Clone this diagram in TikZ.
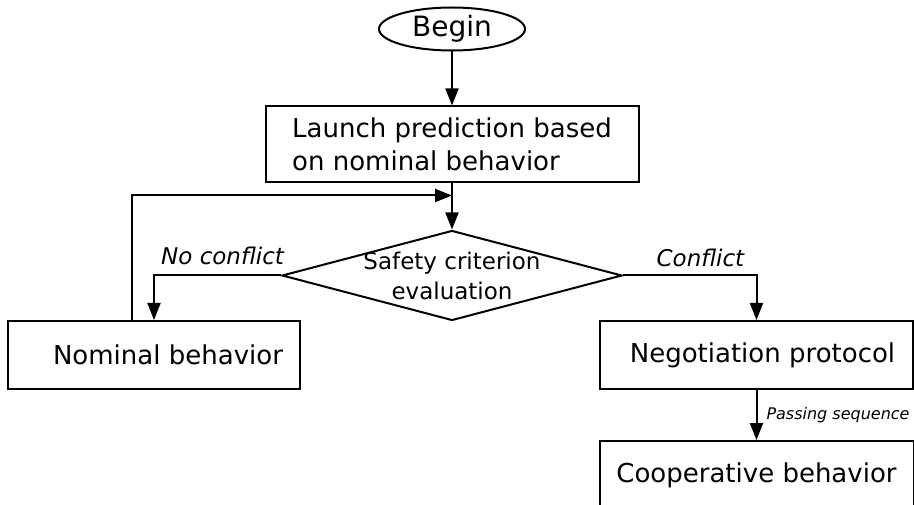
\documentclass[tikz,border=0pt]{standalone}
\usepackage{fontspec}
\setmainfont{DejaVu Sans}
\usetikzlibrary{arrows.meta,positioning,shapes.geometric}

\begin{document}
\begin{tikzpicture}[x=1pt,y=-1pt,>={Triangle[length=17pt,width=13pt]},line width=2pt,
  block/.style={draw,rectangle,minimum height=68pt,inner sep=0pt,font=\fontsize{26}{33}\selectfont},
  lbl/.style={font=\fontsize{23}{27}\selectfont\itshape,inner sep=0pt}]
\useasboundingbox (0,0) rectangle (914,505);
\clip (0,0) rectangle (914,505);
\node[draw,ellipse,minimum width=146pt,minimum height=43pt,inner sep=0pt,font=\fontsize{28}{32}\selectfont] (begin) at (452,29) {Begin};
\node[block,below=54pt of begin,minimum width=373pt,minimum height=76pt,align=left] (launch) {Launch prediction based\\on nominal behavior};
\node[draw,diamond,below=46pt of launch,minimum width=340pt,minimum height=90pt,inner sep=0pt] (crit) {};
\node[font=\fontsize{23}{30}\selectfont,align=center] (critlbl) at (crit) {Safety criterion\\evaluation};
\node[block,minimum width=292pt] (nominal) at (154,355) {\hspace*{28pt}Nominal behavior};
\node[block,minimum width=313pt] (nego) at (756.5,355) {\hspace*{12pt}Negotiation protocol};
\node[block,below=50pt of nego,minimum width=314pt] (coop) {Cooperative behavior};
\coordinate[below=12pt of launch] (join);
\draw[->] (begin) -- (launch);
\draw[->] (launch) -- (crit);
\draw[->] (crit.west) -| node[lbl,above=10pt,pos=.23] {No conflict} (nominal.north);
\draw[->] (crit.east) -| node[lbl,above=8pt,pos=.29] {Conflict} (nego.north);
\draw[->] (nego) -- node[right=9pt,font=\fontsize{16}{19}\selectfont\itshape,inner sep=0pt] {Passing sequence} (coop);
\draw[->] ([xshift=-22pt]nominal.north) |- (join);
\end{tikzpicture}
\end{document}
